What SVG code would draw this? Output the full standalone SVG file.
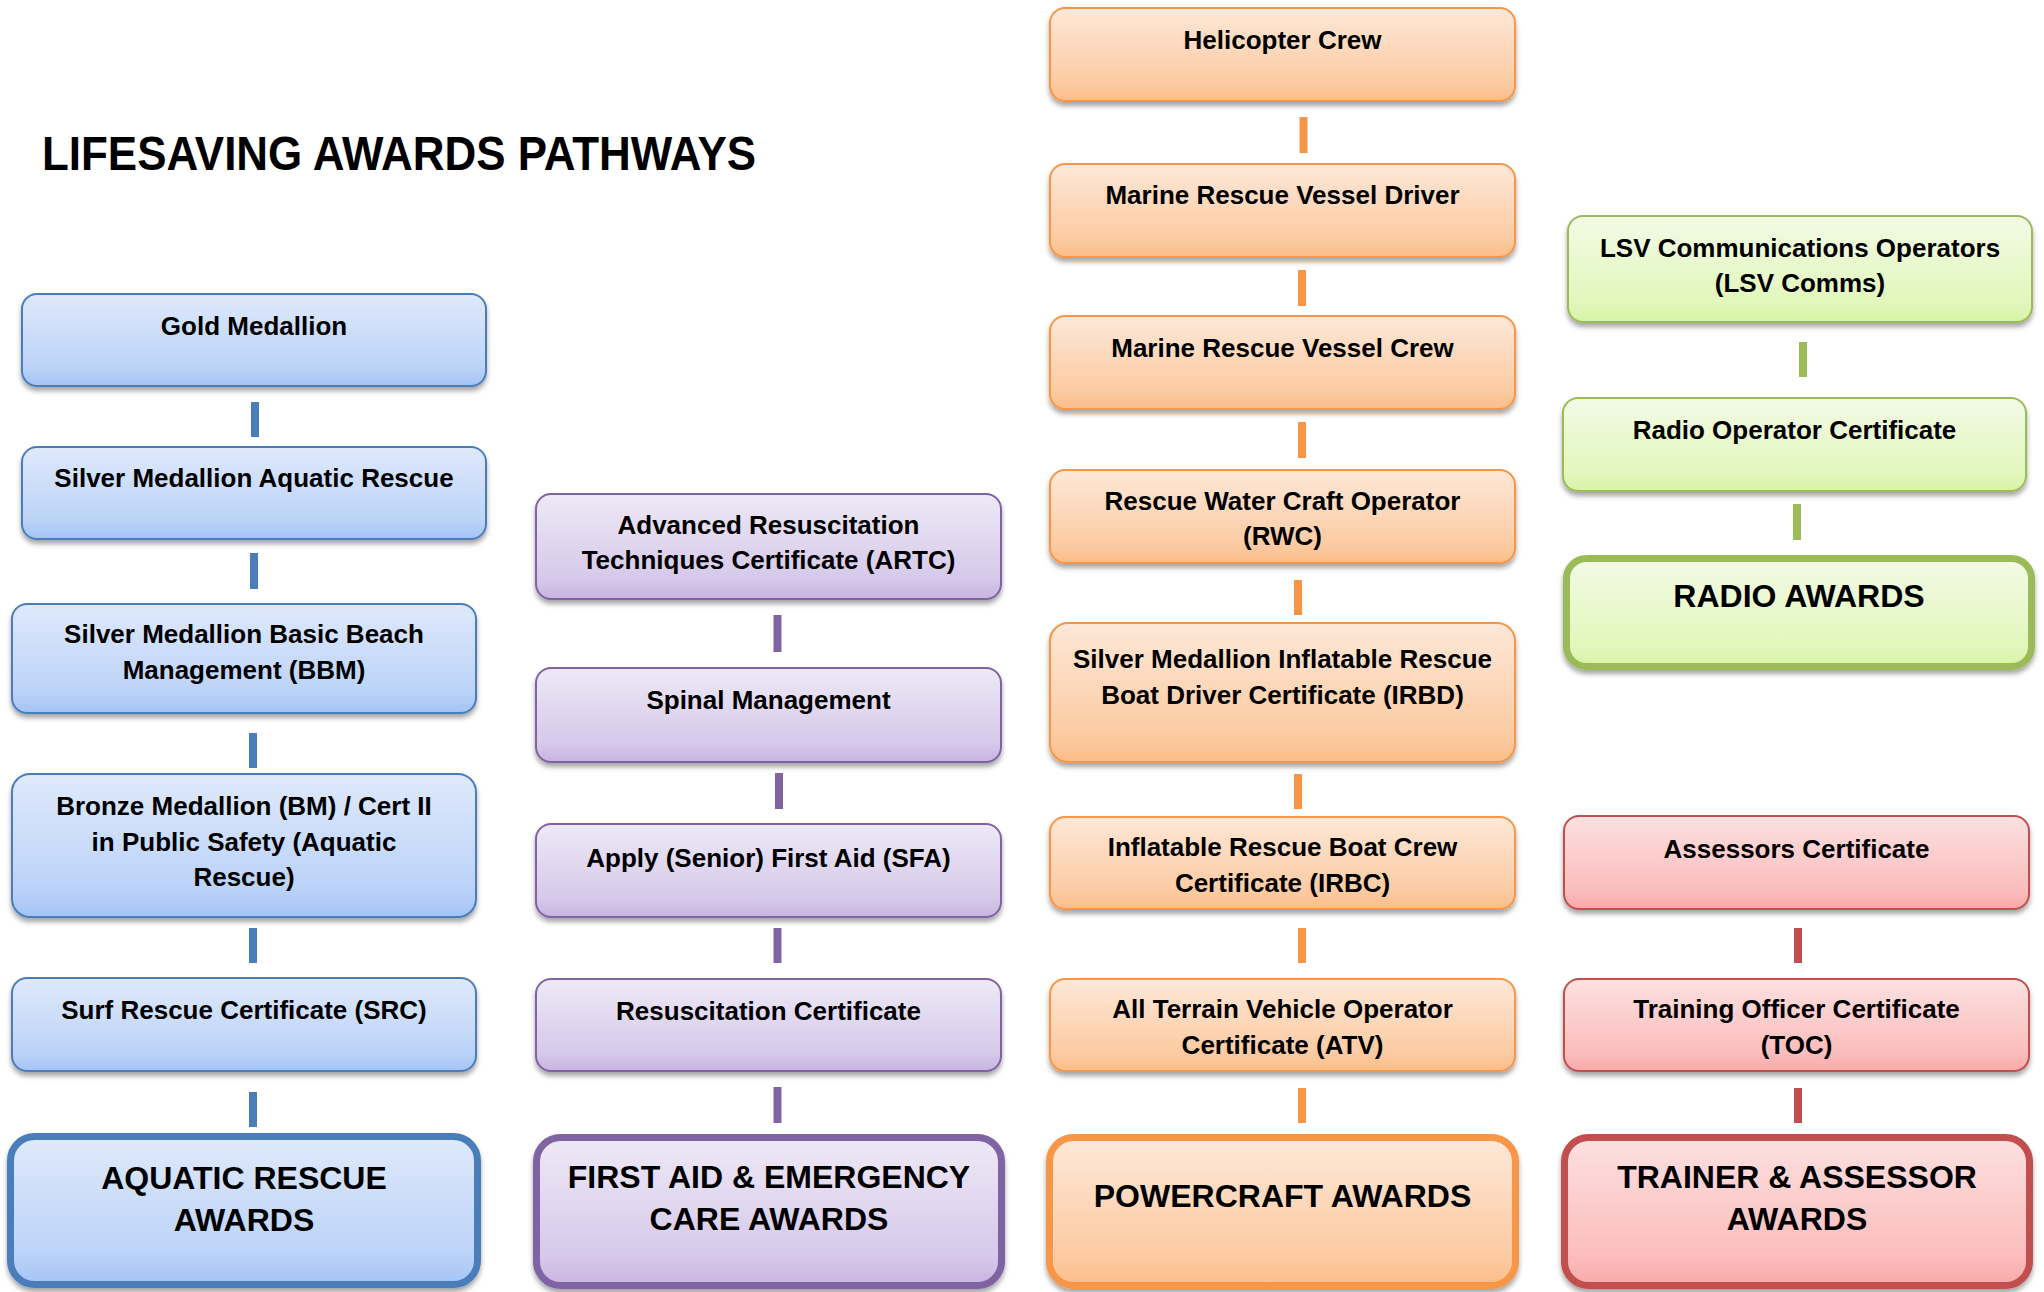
<svg xmlns="http://www.w3.org/2000/svg" width="2044" height="1292" viewBox="0 0 2044 1292">
<defs>
<linearGradient id="gBlue" x1="0" y1="0" x2="0" y2="1"><stop offset="0" stop-color="#dfe9fb"/><stop offset="0.8" stop-color="#bcd3f8"/><stop offset="1" stop-color="#a3c3f6"/></linearGradient>
<linearGradient id="gPurple" x1="0" y1="0" x2="0" y2="1"><stop offset="0" stop-color="#eee9f6"/><stop offset="0.8" stop-color="#d6c9ea"/><stop offset="1" stop-color="#c8b4e2"/></linearGradient>
<linearGradient id="gOrange" x1="0" y1="0" x2="0" y2="1"><stop offset="0" stop-color="#fde8d8"/><stop offset="0.8" stop-color="#fccba3"/><stop offset="1" stop-color="#fbbd88"/></linearGradient>
<linearGradient id="gGreen" x1="0" y1="0" x2="0" y2="1"><stop offset="0" stop-color="#f3fae6"/><stop offset="0.8" stop-color="#e2f7bd"/><stop offset="1" stop-color="#d7f4a5"/></linearGradient>
<linearGradient id="gRed" x1="0" y1="0" x2="0" y2="1"><stop offset="0" stop-color="#fde0e0"/><stop offset="0.8" stop-color="#fbbdbd"/><stop offset="1" stop-color="#faa9a9"/></linearGradient>
<filter id="sh" x="-5%" y="-10%" width="110%" height="130%"><feDropShadow dx="0" dy="4" stdDeviation="2.5" flood-color="#000" flood-opacity="0.35"/></filter>
</defs>
<style>
text{font-family:"Liberation Sans",Arial,sans-serif;font-weight:bold;fill:#000;text-anchor:middle}
.t{font-size:26px}
.a{font-size:32px}
.title{font-size:48px;text-anchor:start}
rect{filter:url(#sh)}
.blue{fill:url(#gBlue);stroke:#4a7ebb;stroke-width:2}
.purple{fill:url(#gPurple);stroke:#8064a2;stroke-width:2}
.orange{fill:url(#gOrange);stroke:#f79646;stroke-width:2}
.green{fill:url(#gGreen);stroke:#9bbb59;stroke-width:2}
.red{fill:url(#gRed);stroke:#c0504d;stroke-width:2}
.aw{stroke-width:7}
#connectors line{stroke-width:8}
.cb{stroke:#4a7ebb}.cp{stroke:#8064a2}.co{stroke:#f79646}.cg{stroke:#9bbb59}.cr{stroke:#c0504d}
</style>
<rect width="2044" height="1292" fill="#fff" style="filter:none"/>
<text class="title" x="42" y="170" textLength="714" lengthAdjust="spacingAndGlyphs">LIFESAVING AWARDS PATHWAYS</text>

<g id="connectors">
<line class="cb" x1="255" y1="402" x2="255" y2="437"/>
<line class="cb" x1="254" y1="553" x2="254" y2="589"/>
<line class="cb" x1="253" y1="733" x2="253" y2="768"/>
<line class="cb" x1="253" y1="928" x2="253" y2="963"/>
<line class="cb" x1="253" y1="1092" x2="253" y2="1127"/>
<line class="cp" x1="777.5" y1="615" x2="777.5" y2="652"/>
<line class="cp" x1="779" y1="773" x2="779" y2="809"/>
<line class="cp" x1="777.5" y1="928" x2="777.5" y2="963"/>
<line class="cp" x1="777.5" y1="1087" x2="777.5" y2="1123"/>
<line class="co" x1="1303.5" y1="117" x2="1303.5" y2="153"/>
<line class="co" x1="1302" y1="270" x2="1302" y2="306"/>
<line class="co" x1="1302" y1="422" x2="1302" y2="458"/>
<line class="co" x1="1298" y1="580" x2="1298" y2="615"/>
<line class="co" x1="1298" y1="774" x2="1298" y2="809"/>
<line class="co" x1="1302" y1="928" x2="1302" y2="963"/>
<line class="co" x1="1302" y1="1088" x2="1302" y2="1123"/>
<line class="cg" x1="1803" y1="342" x2="1803" y2="377"/>
<line class="cg" x1="1797" y1="504" x2="1797" y2="540"/>
<line class="cr" x1="1798" y1="928" x2="1798" y2="963"/>
<line class="cr" x1="1798" y1="1088" x2="1798" y2="1123"/>
</g>

<g id="gold-medallion"><rect class="blue" x="22" y="294" width="464" height="92" rx="15"/><text class="t" x="254" y="335">Gold Medallion</text></g>
<g id="silver-aquatic"><rect class="blue" x="22" y="447" width="464" height="92" rx="15"/><text class="t" x="254" y="487">Silver Medallion Aquatic Rescue</text></g>
<g id="silver-bbm"><rect class="blue" x="12" y="604" width="464" height="109" rx="15"/><text class="t" x="244" y="643">Silver Medallion Basic Beach</text><text class="t" x="244" y="679">Management (BBM)</text></g>
<g id="bronze"><rect class="blue" x="12" y="774" width="464" height="143" rx="18"/><text class="t" x="244" y="815">Bronze Medallion (BM) / Cert II</text><text class="t" x="244" y="851">in Public Safety (Aquatic</text><text class="t" x="244" y="886">Rescue)</text></g>
<g id="src"><rect class="blue" x="12" y="978" width="464" height="93" rx="15"/><text class="t" x="244" y="1019">Surf Rescue Certificate (SRC)</text></g>
<g id="aquatic-awards"><rect class="blue aw" x="10.5" y="1136.5" width="467" height="148" rx="24"/><text class="a" x="244" y="1189">AQUATIC RESCUE</text><text class="a" x="244" y="1231">AWARDS</text></g>

<g id="artc"><rect class="purple" x="536" y="494" width="465" height="105" rx="15"/><text class="t" x="768.5" y="534">Advanced Resuscitation</text><text class="t" x="768.5" y="569">Techniques Certificate (ARTC)</text></g>
<g id="spinal"><rect class="purple" x="536" y="668" width="465" height="94" rx="15"/><text class="t" x="768.5" y="709">Spinal Management</text></g>
<g id="sfa"><rect class="purple" x="536" y="824" width="465" height="93" rx="15"/><text class="t" x="768.5" y="867">Apply (Senior) First Aid (SFA)</text></g>
<g id="resus"><rect class="purple" x="536" y="979" width="465" height="92" rx="15"/><text class="t" x="768.5" y="1020">Resuscitation Certificate</text></g>
<g id="first-aid-awards"><rect class="purple aw" x="536.5" y="1137.5" width="465" height="148" rx="24"/><text class="a" x="769" y="1188">FIRST AID &amp; EMERGENCY</text><text class="a" x="769" y="1230">CARE AWARDS</text></g>

<g id="helicopter"><rect class="orange" x="1050" y="8" width="465" height="93" rx="15"/><text class="t" x="1282.5" y="49">Helicopter Crew</text></g>
<g id="mrv-driver"><rect class="orange" x="1050" y="164" width="465" height="93" rx="15"/><text class="t" x="1282.5" y="204">Marine Rescue Vessel Driver</text></g>
<g id="mrv-crew"><rect class="orange" x="1050" y="316" width="465" height="93" rx="15"/><text class="t" x="1282.5" y="357">Marine Rescue Vessel Crew</text></g>
<g id="rwc"><rect class="orange" x="1050" y="470" width="465" height="93" rx="15"/><text class="t" x="1282.5" y="510">Rescue Water Craft Operator</text><text class="t" x="1282.5" y="545">(RWC)</text></g>
<g id="irbd"><rect class="orange" x="1050" y="623" width="465" height="139" rx="18"/><text class="t" x="1282.5" y="668">Silver Medallion Inflatable Rescue</text><text class="t" x="1282.5" y="704">Boat Driver Certificate (IRBD)</text></g>
<g id="irbc"><rect class="orange" x="1050" y="817" width="465" height="92" rx="15"/><text class="t" x="1282.5" y="856">Inflatable Rescue Boat Crew</text><text class="t" x="1282.5" y="892">Certificate (IRBC)</text></g>
<g id="atv"><rect class="orange" x="1050" y="979" width="465" height="92" rx="15"/><text class="t" x="1282.5" y="1018">All Terrain Vehicle Operator</text><text class="t" x="1282.5" y="1054">Certificate (ATV)</text></g>
<g id="powercraft-awards"><rect class="orange aw" x="1049.5" y="1137.5" width="466" height="148" rx="24"/><text class="a" x="1282.5" y="1207">POWERCRAFT AWARDS</text></g>

<g id="lsv-comms"><rect class="green" x="1568" y="216" width="464" height="106" rx="15"/><text class="t" x="1800" y="257">LSV Communications Operators</text><text class="t" x="1800" y="292">(LSV Comms)</text></g>
<g id="radio-operator"><rect class="green" x="1563" y="398" width="463" height="93" rx="15"/><text class="t" x="1794.5" y="439">Radio Operator Certificate</text></g>
<g id="radio-awards"><rect class="green aw" x="1566.5" y="558.5" width="465" height="108" rx="20"/><text class="a" x="1799" y="607">RADIO AWARDS</text></g>

<g id="assessors"><rect class="red" x="1564" y="816" width="465" height="93" rx="15"/><text class="t" x="1796.5" y="858">Assessors Certificate</text></g>
<g id="toc"><rect class="red" x="1564" y="979" width="465" height="92" rx="15"/><text class="t" x="1796.5" y="1018">Training Officer Certificate</text><text class="t" x="1796.5" y="1054">(TOC)</text></g>
<g id="trainer-awards"><rect class="red aw" x="1564.5" y="1137.5" width="465" height="148" rx="24"/><text class="a" x="1797" y="1188">TRAINER &amp; ASSESSOR</text><text class="a" x="1797" y="1230">AWARDS</text></g>
</svg>
